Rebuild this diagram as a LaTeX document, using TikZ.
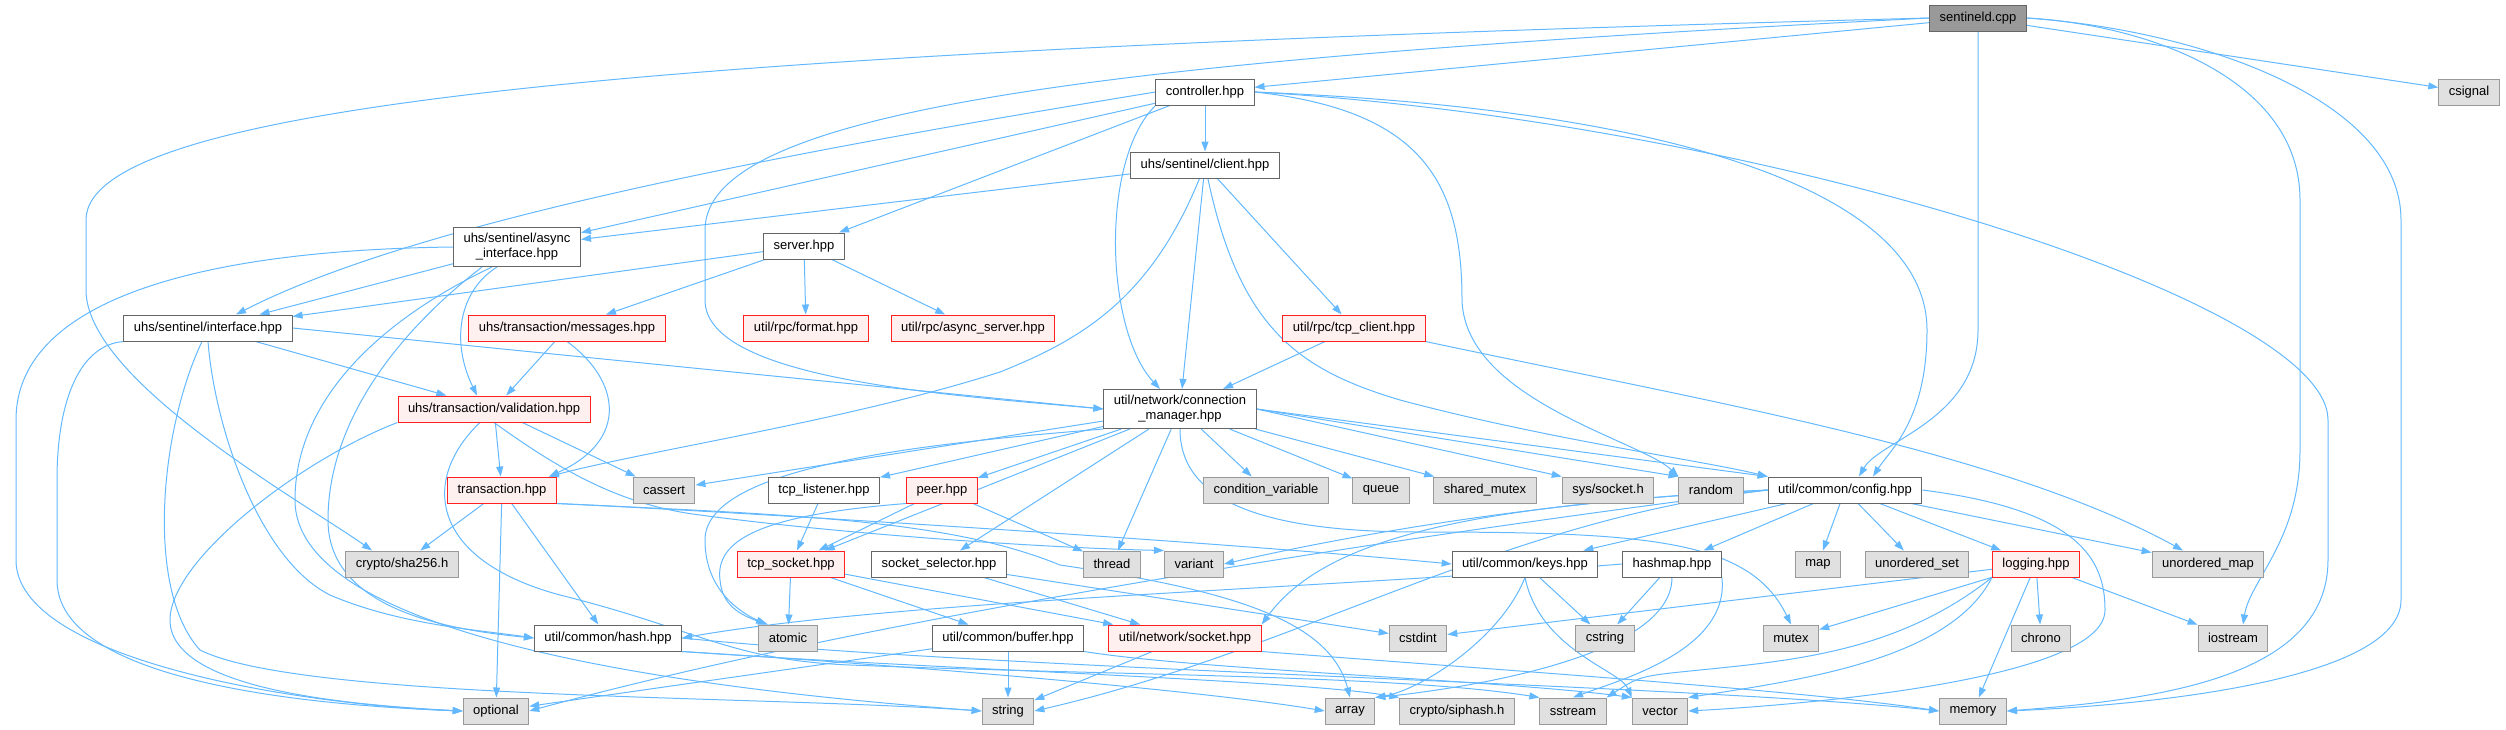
\documentclass[tikz,border=0pt]{standalone}
\usepackage{fontspec}
\setmainfont{Liberation Sans}
\usetikzlibrary{arrows.meta}
\definecolor{edgeblue}{HTML}{63B8FF}
\definecolor{boxline}{HTML}{666666}
\definecolor{rootfill}{HTML}{999999}
\definecolor{truncline}{HTML}{FF2020}
\definecolor{truncfill}{HTML}{FFF0F0}
\definecolor{extline}{HTML}{999999}
\definecolor{extfill}{HTML}{E0E0E0}
\pgfdeclarelayer{edges}
\pgfsetlayers{edges,main}

\begin{document}
\begin{tikzpicture}[x=1pt,y=-1pt,
  incl/.style={draw=boxline,fill=white,line width=1pt,inner xsep=10pt,inner ysep=0pt,minimum height=26pt,align=center,font=\fontsize{13}{15}\selectfont},
  rootincl/.style={incl,fill=rootfill},
  truncincl/.style={incl,draw=truncline,fill=truncfill},
  sysincl/.style={incl,draw=extline,fill=extfill},
  tall/.style={inner ysep=6pt},
  dep/.style={draw=edgeblue,line width=1pt,-{Triangle[length=10pt,width=7pt]}}]
\useasboundingbox (0,0) rectangle (2506,729);

\node[rootincl] (sentineld) at (1978,18) {sentineld.cpp};
\node[incl] (controller) at (1205,92) {controller.hpp};
\node[sysincl] (csignal) at (2469,92) {csignal};
\node[incl] (client) at (1205,165) {uhs/sentinel/client.hpp};
\node[incl,tall] (async) at (517,247) {uhs/sentinel/async\\\_interface.hpp};
\node[incl] (server) at (804,246) {server.hpp};
\node[incl] (iface) at (208,328) {uhs/sentinel/interface.hpp};
\node[truncincl] (messages) at (567,328) {uhs/transaction/messages.hpp};
\node[truncincl] (format) at (806,328) {util/rpc/format.hpp};
\node[truncincl] (asyncsrv) at (973,328) {util/rpc/async\_server.hpp};
\node[truncincl] (tcpclient) at (1354,328) {util/rpc/tcp\_client.hpp};
\node[truncincl] (validation) at (494,409) {uhs/transaction/validation.hpp};
\node[incl,tall] (connmgr) at (1180,409) {util/network/connection\\\_manager.hpp};
\node[truncincl] (transaction) at (502,490) {transaction.hpp};
\node[sysincl] (cassert) at (664,490) {cassert};
\node[incl] (tcplistener) at (824,490) {tcp\_listener.hpp};
\node[truncincl] (peer) at (942,490) {peer.hpp};
\node[sysincl] (condvar) at (1266,490) {condition\_variable};
\node[sysincl] (queue) at (1381,490) {queue};
\node[sysincl] (sharedmutex) at (1485,490) {shared\_mutex};
\node[sysincl] (syssocket) at (1608,490) {sys/socket.h};
\node[sysincl] (random) at (1711,490) {random};
\node[incl] (config) at (1845,490) {util/common/config.hpp};
\node[sysincl] (sha256) at (402,564) {crypto/sha256.h};
\node[truncincl] (tcpsocket) at (791,564) {tcp\_socket.hpp};
\node[incl] (selector) at (939,564) {socket\_selector.hpp};
\node[sysincl] (thread) at (1112,564) {thread};
\node[sysincl] (variant) at (1194,564) {variant};
\node[incl] (keys) at (1525,564) {util/common/keys.hpp};
\node[incl] (hashmap) at (1672,564) {hashmap.hpp};
\node[sysincl] (map) at (1818,564) {map};
\node[sysincl] (uset) at (1917,564) {unordered\_set};
\node[truncincl] (logging) at (2036,564) {logging.hpp};
\node[sysincl] (umap) at (2208,564) {unordered\_map};
\node[incl] (hash) at (608,638) {util/common/hash.hpp};
\node[sysincl] (atomic) at (788,638) {atomic};
\node[incl] (buffer) at (1008,638) {util/common/buffer.hpp};
\node[truncincl] (socket) at (1185,638) {util/network/socket.hpp};
\node[sysincl] (cstdint) at (1418,638) {cstdint};
\node[sysincl] (cstring) at (1605,638) {cstring};
\node[sysincl] (mutex) at (1791,638) {mutex};
\node[sysincl] (chrono) at (2041,638) {chrono};
\node[sysincl] (iostream) at (2233,638) {iostream};
\node[sysincl] (optional) at (496,711) {optional};
\node[sysincl] (string) at (1008,711) {string};
\node[sysincl] (array) at (1350,711) {array};
\node[sysincl] (siphash) at (1457,711) {crypto/siphash.h};
\node[sysincl] (sstream) at (1573,711) {sstream};
\node[sysincl] (vector) at (1660,711) {vector};
\node[sysincl] (memory) at (1973,711) {memory};

\begin{pgfonlayer}{edges}
  \foreach \a/\b in {sentineld/controller,sentineld/csignal,controller/client,controller/server,
      controller/async,client/async,client/connmgr,client/tcpclient,server/iface,server/messages,
      server/format,server/asyncsrv,async/iface,iface/validation,messages/validation,
      validation/transaction,validation/cassert,transaction/sha256,transaction/optional,
      transaction/hash,tcplistener/tcpsocket,peer/tcpsocket,peer/thread,tcpsocket/atomic,
      tcpsocket/socket,tcpsocket/buffer,selector/socket,selector/cstdint,connmgr/cassert,
      connmgr/tcplistener,connmgr/peer,connmgr/tcpsocket,connmgr/selector,connmgr/thread,
      connmgr/condvar,connmgr/queue,connmgr/sharedmutex,tcpclient/connmgr,config/keys,
      config/hashmap,config/map,config/uset,config/logging,config/umap,logging/cstdint,
      logging/mutex,logging/memory,logging/chrono,logging/iostream,hashmap/cstring,
      keys/cstring,buffer/string,socket/string,buffer/optional}
    \draw[dep] (\a) -- (\b);

  \draw[dep] (sentineld.west) .. controls (700,50) and (86,100) .. (86,220) -- (86,290)
    .. controls (86,380) and (300,500) .. ([xshift=-30pt]sha256.north);
  \draw[dep] (sentineld.west) .. controls (1100,60) and (705,110) .. (705,230) -- (705,300)
    .. controls (705,380) and (950,395) .. (connmgr.west);
  \draw[dep] (sentineld.south) -- (1978,330) .. controls (1978,420) and (1880,440) .. ([xshift=14pt]config.north);
  \draw[dep] (sentineld.east) .. controls (2150,25) and (2300,80) .. (2300,200) -- (2300,450)
    .. controls (2300,540) and (2250,580) .. ([xshift=10pt]iostream.north);
  \draw[dep] (sentineld.east) .. controls (2200,30) and (2401,100) .. (2401,220) -- (2401,600)
    .. controls (2401,680) and (2150,705) .. (memory.east);

  \draw[dep] (controller.west) .. controls (800,150) and (420,220) .. ([xshift=28pt]iface.north);
  \draw[dep] (controller.south west) .. controls (1100,160) and (1105,330) .. ([xshift=-20pt]connmgr.north);
  \draw[dep] (controller.east) .. controls (1700,110) and (1927,200) .. (1927,330)
    .. controls (1927,420) and (1890,450) .. ([xshift=28pt]config.north);
  \draw[dep] (controller.east) .. controls (1750,120) and (2328,300) .. (2328,420) -- (2328,560)
    .. controls (2328,680) and (2150,700) .. (memory.east);
  \draw[dep] (controller.east) .. controls (1420,110) and (1462,180) .. (1462,300)
    .. controls (1465,400) and (1640,440) .. (random.north west);

  \draw[dep] (client) .. controls (1150,300) and (1080,340) .. (1000,372)
    .. controls (850,420) and (650,450) .. ([xshift=-8pt]transaction.north east);
  \draw[dep] (client) .. controls (1240,330) and (1300,370) .. (1400,400)
    .. controls (1550,440) and (1700,460) .. (config.north west);

  \draw[dep] ([xshift=-20pt]async.south) .. controls (460,290) and (450,340) .. ([xshift=-17pt]validation.north);
  \draw[dep] (async.west) .. controls (200,250) and (16,300) .. (16,420) -- (16,560)
    .. controls (16,660) and (300,705) .. (optional.west);
  \draw[dep] ([xshift=-35pt]async.south) .. controls (400,330) and (328,420) .. (328,520)
    .. controls (328,610) and (450,630) .. (hash.west);
  \draw[dep] ([xshift=-25pt]async.south) .. controls (380,320) and (295,400) .. (295,500)
    .. controls (295,640) and (700,690) .. (string.west);

  \draw[dep] (iface.south west) .. controls (80,345) and (57,400) .. (57,480) -- (57,580)
    .. controls (57,680) and (300,705) .. (optional.west);
  \draw[dep] ([xshift=-6pt]iface.south) .. controls (160,430) and (145,590) .. (200,650)
    .. controls (300,700) and (750,695) .. (string.west);
  \draw[dep] (iface.south) .. controls (215,430) and (260,560) .. (330,595)
    .. controls (400,625) and (480,630) .. (hash.west);
  \draw[dep] (iface.east) -- (connmgr.west);

  \draw[dep] (messages.south) .. controls (620,380) and (630,440) .. ([xshift=-8pt]transaction.north east);

  \draw[dep] (validation.south west) .. controls (300,460) and (170,560) .. (170,620)
    .. controls (170,690) and (350,705) .. (optional.west);
  \draw[dep] (validation.south) .. controls (560,470) and (620,505) .. (700,515)
    .. controls (850,535) and (1050,548) .. (variant.north west);
  \draw[dep] (validation) .. controls (420,480) and (430,560) .. (560,595)
    .. controls (700,630) and (730,660) .. (850,665)
    .. controls (1100,675) and (1400,675) .. (sstream.north west);

  \draw[dep] (transaction.south east) .. controls (700,510) and (1200,540) .. (keys.west);
  \draw[dep] (transaction.south east) .. controls (800,515) and (950,520) .. (1060,565)
    .. controls (1230,590) and (1330,620) .. (array.north);

  \draw[dep] (peer.south west) .. controls (760,515) and (715,540) .. (720,580)
    .. controls (722,605) and (740,615) .. ([xshift=-20pt]atomic.north);

  \draw[dep] (connmgr.south west) .. controls (900,445) and (705,470) .. (705,540)
    .. controls (705,590) and (740,612) .. ([xshift=-22pt]atomic.north);
  \draw[dep] (connmgr.south) .. controls (1180,500) and (1260,532) .. (1420,532)
    .. controls (1650,532) and (1750,540) .. (mutex.north);
  \draw[dep] (connmgr.east) -- (syssocket.north west);
  \draw[dep] (connmgr.east) -- (random.north west);
  \draw[dep] (connmgr.east) -- (config.north west);

  \draw[dep] (tcpclient.south east) .. controls (1700,400) and (2000,450) .. ([xshift=-25pt]umap.north);

  \draw[dep] (config.west) .. controls (1500,505) and (1330,530) .. (socket.north east);
  \draw[dep] (config.west) .. controls (1550,500) and (1350,535) .. (variant.east);
  \draw[dep] (config.west) .. controls (1450,530) and (900,610) .. (optional.east);
  \draw[dep] (config.west) .. controls (1500,520) and (1300,650) .. (string.east);
  \draw[dep] (config.east) .. controls (2080,510) and (2105,560) .. (2105,610)
    .. controls (2105,680) and (1800,705) .. (vector.east);

  \draw[dep] (logging.south west) .. controls (1900,650) and (1800,660) .. (1700,670)
    .. controls (1640,676) .. (sstream.north east);
  \draw[dep] (logging.south west) .. controls (1950,660) and (1800,680) .. (vector.north east);

  \draw[dep] (hashmap.west) .. controls (1300,590) and (900,600) .. (hash.east);
  \draw[dep] (hashmap.south) .. controls (1672,660) and (1450,690) .. (array.north east);
  \draw[dep] (hashmap.south east) .. controls (1730,650) and (1620,680) .. (sstream.north);

  \draw[dep] (keys.south) .. controls (1500,640) and (1420,690) .. (array.north east);
  \draw[dep] (keys.south) .. controls (1540,650) and (1620,670) .. (vector.north west);

  \draw[dep] (hash.south east) .. controls (900,665) and (1200,690) .. (array.west);
  \draw[dep] (hash.south east) .. controls (950,670) and (1300,680) .. (siphash.north west);
  \draw[dep] (hash.east) .. controls (1000,670) and (1700,685) .. (memory.west);

  \draw[dep] (buffer.south east) .. controls (1200,670) and (1500,680) .. (vector.north west);
  \draw[dep] (socket.south east) .. controls (1500,670) and (1800,690) .. (memory.west);
\end{pgfonlayer}
\end{tikzpicture}
\end{document}
